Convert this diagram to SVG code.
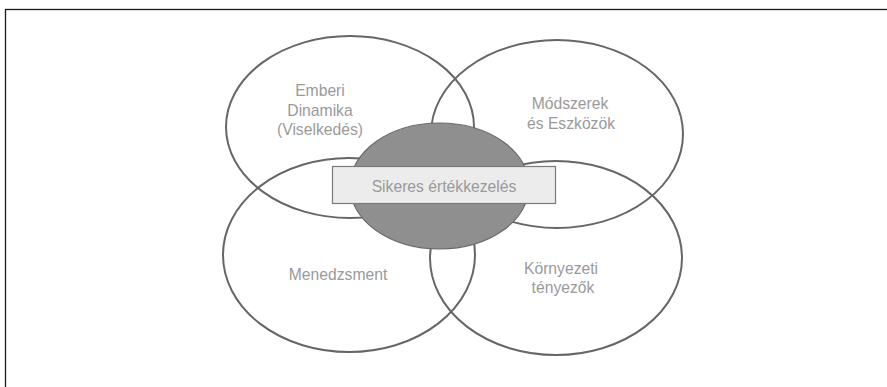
<svg xmlns="http://www.w3.org/2000/svg" width="887" height="387" viewBox="0 0 887 387">
  <style>
    .ring { fill: none; stroke: #666666; stroke-width: 2; }
    .label { font-family: "Liberation Sans", Arial, sans-serif; font-size: 15.7px; fill: #9a9a9a; text-anchor: middle; }
  </style>
  <rect x="0" y="0" width="887" height="387" fill="#ffffff"/>
  <!-- frame: only top and left edges fall inside the canvas -->
  <rect x="5.5" y="9.5" width="900" height="400" fill="none" stroke="#1a1a1a" stroke-width="1.3"/>

  <g id="emberi-dinamika">
    <ellipse class="ring" cx="350" cy="127" rx="124" ry="91"/>
    <text class="label" x="320" y="96">Emberi</text>
    <text class="label" x="320" y="116">Dinamika</text>
    <text class="label" x="320" y="135">(Viselkedés)</text>
  </g>

  <g id="modszerek">
    <ellipse class="ring" cx="557" cy="134" rx="126" ry="94"/>
    <text class="label" x="570" y="109">Módszerek</text>
    <text class="label" x="571" y="129">és Eszközök</text>
  </g>

  <g id="menedzsment">
    <ellipse class="ring" cx="349" cy="255" rx="126" ry="97"/>
    <text class="label" x="338" y="280">Menedzsment</text>
  </g>

  <g id="kornyezeti">
    <ellipse class="ring" cx="556" cy="258" rx="126" ry="97"/>
    <text class="label" x="561" y="274">Környezeti</text>
    <text class="label" x="563" y="293">tényezők</text>
  </g>

  <g id="sikeres-ertekkezeles">
    <ellipse cx="439.5" cy="186" rx="89.5" ry="63" fill="#8f8f8f" stroke="#6a6a6a" stroke-width="1.2"/>
    <rect x="332.5" y="166.5" width="223" height="37" fill="#ececec" stroke="#7a7a7a" stroke-width="1.2"/>
    <text class="label" x="444" y="192">Sikeres értékkezelés</text>
  </g>
</svg>
